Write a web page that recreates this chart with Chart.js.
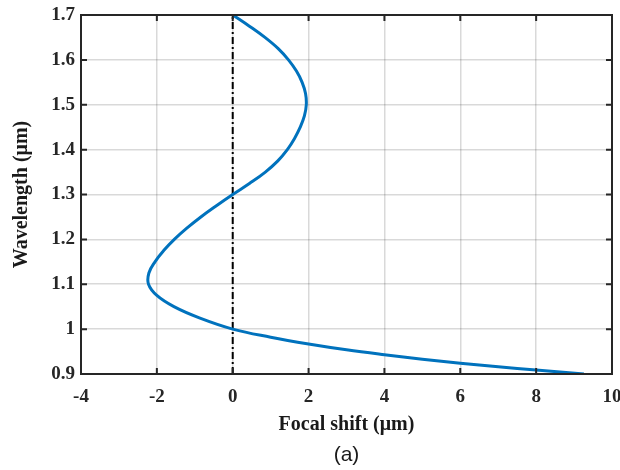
<!DOCTYPE html>
<html>
<head>
<meta charset="utf-8">
<script src="https://cdn.jsdelivr.net/npm/chart.js@4.4.1/dist/chart.umd.min.js"></script>
<style>
  html, body { margin: 0; padding: 0; background: #ffffff; }
  #wrap { width: 620px; height: 470px; }
</style>
</head>
<body>
<div id="wrap"><canvas id="c" width="620" height="470"></canvas></div>
<script>
// ---- data ----
const wavelength = [1.700, 1.675, 1.650, 1.625, 1.600, 1.575, 1.550, 1.525, 1.500, 1.475, 1.450, 1.425, 1.400, 1.375, 1.350, 1.325, 1.300, 1.275, 1.250, 1.225, 1.200, 1.175, 1.150, 1.125, 1.100, 1.075, 1.050, 1.025, 1.000, 0.982, 0.967, 0.954, 0.943, 0.933, 0.924, 0.916, 0.909, 0.900];
const focalShift = [0.00, 0.44, 0.85, 1.20, 1.47, 1.68, 1.83, 1.92, 1.94, 1.89, 1.78, 1.63, 1.44, 1.19, 0.86, 0.45, 0.00, -0.43, -0.84, -1.21, -1.54, -1.82, -2.05, -2.21, -2.22, -2.00, -1.55, -0.88, 0.00, 1.00, 2.00, 3.00, 4.00, 5.00, 6.00, 7.00, 8.00, 9.26];
const refLineX = [0, 0];
const refLineY = [0.9, 1.7];
const xTickValues = [-4, -2, 0, 2, 4, 6, 8, 10];
const yTickValues = [0.9, 1.0, 1.1, 1.2, 1.3, 1.4, 1.5, 1.6, 1.7];
const yTickLabels = ['0.9', '1', '1.1', '1.2', '1.3', '1.4', '1.5', '1.6', '1.7'];
const xTitle = 'Focal shift (\u03bcm)';
const yTitle = 'Wavelength (\u03bcm)';
const caption = '(a)';

const curvePoints = wavelength.map((w, i) => ({ x: focalShift[i], y: w }));
const refPoints = refLineX.map((x, i) => ({ x: x, y: refLineY[i] }));

const serif = '"Liberation Serif", "Times New Roman", serif';

const framePlugin = {
  id: 'frame',
  afterDatasetsDraw(chart) {
    const { ctx, chartArea: a, scales } = chart;
    ctx.save();
    ctx.strokeStyle = '#262626';
    ctx.lineWidth = 2;
    ctx.beginPath();
    const tl = 6;
    xTickValues.forEach(v => {
      const px = scales.x.getPixelForValue(v);
      ctx.moveTo(px, a.bottom); ctx.lineTo(px, a.bottom - tl);
      ctx.moveTo(px, a.top); ctx.lineTo(px, a.top + tl);
    });
    yTickValues.forEach(v => {
      const py = scales.y.getPixelForValue(v);
      ctx.moveTo(a.left, py); ctx.lineTo(a.left + tl, py);
      ctx.moveTo(a.right, py); ctx.lineTo(a.right - tl, py);
    });
    ctx.stroke();
    ctx.strokeRect(a.left, a.top, a.right - a.left, a.bottom - a.top);
    // caption below the axis title
    ctx.fillStyle = '#1a1a1a';
    ctx.font = '21px "Liberation Sans", Arial, sans-serif';
    ctx.textAlign = 'center';
    ctx.textBaseline = 'middle';
    ctx.fillText(caption, (a.left + a.right) / 2, 455);
    ctx.restore();
  }
};

new Chart(document.getElementById('c'), {
  type: 'scatter',
  data: {
    datasets: [
      {
        data: refPoints,
        showLine: true,
        borderColor: '#000000',
        borderWidth: 2,
        borderDash: [7, 3, 2, 3],
        pointRadius: 0,
        fill: false,
        order: 2
      },
      {
        data: curvePoints,
        showLine: true,
        borderColor: '#0072BD',
        borderWidth: 3,
        tension: 0.4,
        pointRadius: 0,
        fill: false,
        order: 1
      }
    ]
  },
  options: {
    responsive: false,
    devicePixelRatio: 1,
    animation: false,
    layout: { padding: { top: 15, right: 8, left: 0, bottom: 30 } },
    plugins: { legend: { display: false }, tooltip: { enabled: false } },
    scales: {
      x: {
        type: 'linear',
        min: -4, max: 10,
        afterBuildTicks: s => { s.ticks = xTickValues.map(v => ({ value: v })); },
        afterFit: s => { s.height = 66; s.paddingLeft = 0; s.paddingRight = 0; },
        grid: { color: 'rgba(0,0,0,0.15)', lineWidth: 1.5, drawTicks: false },
        border: { display: false },
        ticks: {
          color: '#262626', padding: 12,
          font: { family: serif, size: 19, weight: 'bold' },
          maxRotation: 0
        },
        title: {
          display: true, text: xTitle, color: '#1a1a1a',
          font: { family: serif, size: 20, weight: 'bold' },
          padding: { top: 0, bottom: 3 }
        }
      },
      y: {
        type: 'linear',
        min: 0.9, max: 1.7,
        afterBuildTicks: s => { s.ticks = yTickValues.map(v => ({ value: v })); },
        afterFit: s => { s.width = 81; s.paddingTop = 0; s.paddingBottom = 0; },
        grid: { color: 'rgba(0,0,0,0.15)', lineWidth: 1.5, drawTicks: false },
        border: { display: false },
        ticks: {
          color: '#262626', padding: 6,
          font: { family: serif, size: 19, weight: 'bold' },
          callback: (v) => {
            const i = yTickValues.findIndex(t => Math.abs(t - v) < 1e-6);
            return i >= 0 ? yTickLabels[i] : '';
          }
        },
        title: {
          display: true, text: yTitle, color: '#1a1a1a',
          font: { family: serif, size: 20, weight: 'bold' },
          padding: { top: 10, bottom: 0 }
        }
      }
    }
  },
  plugins: [framePlugin]
});
</script>
</body>
</html>
